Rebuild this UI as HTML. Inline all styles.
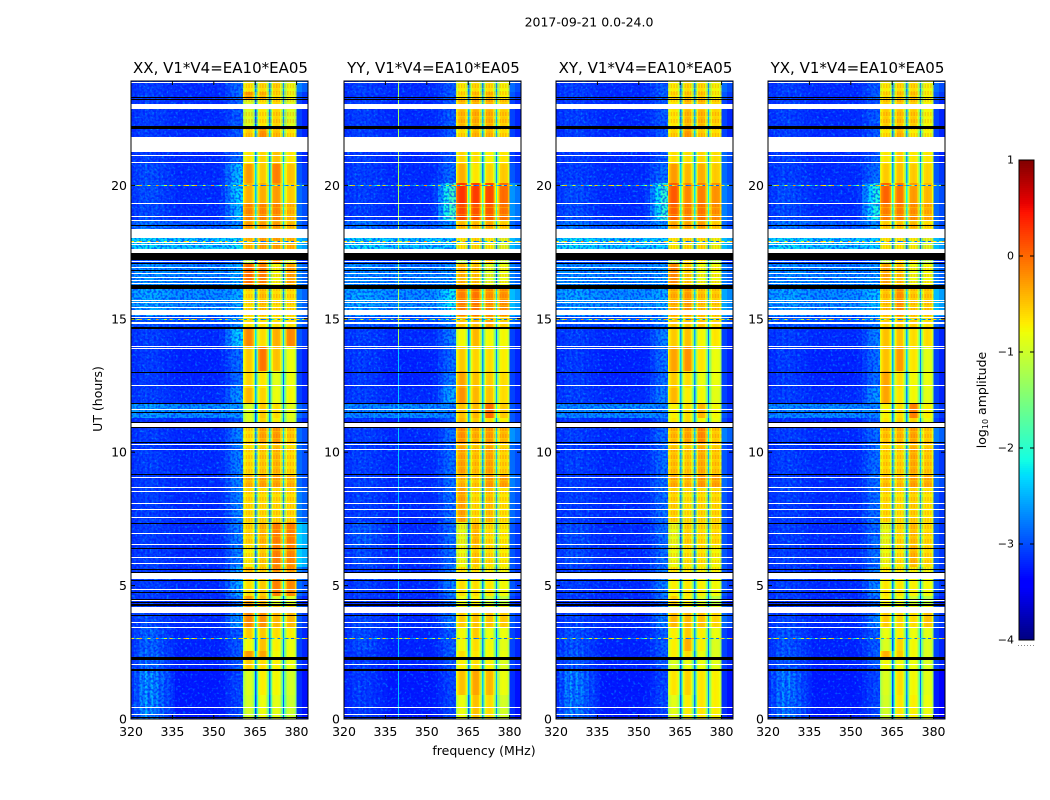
<!DOCTYPE html>
<html lang="en">
<head>
<meta charset="utf-8">
<title>2017-09-21 0.0-24.0</title>
<style>
html,body{margin:0;padding:0;background:#fff;}
svg{display:block;}
text{font-family:"DejaVu Sans","Liberation Sans",sans-serif;fill:#000;}
</style>
</head>
<body>
<svg id="figure" xmlns="http://www.w3.org/2000/svg" width="1050" height="800" viewBox="0 0 1050 800">
  <defs>
    <filter id="speckle-light" x="0" y="0" width="100%" height="100%" color-interpolation-filters="sRGB">
      <feTurbulence type="fractalNoise" baseFrequency="0.42" numOctaves="1" seed="7"/>
      <feColorMatrix type="matrix" values="0 0 0 0 0  0 0 0 0 0.75  0 0 0 0 1  6 0 0 0 -3.3"/>
    </filter>
    <filter id="speckle-dark" x="0" y="0" width="100%" height="100%" color-interpolation-filters="sRGB">
      <feTurbulence type="fractalNoise" baseFrequency="0.46" numOctaves="1" seed="23"/>
      <feColorMatrix type="matrix" values="0 0 0 0 0  0 0 0 0 0.05  0 0 0 0 1  5 0 0 0 -2.2"/>
    </filter>
    <pattern id="comb-texture" x="0" y="0" width="2.76" height="7" patternUnits="userSpaceOnUse">
      <rect x="0" y="0" width="1.4" height="4" fill="#ff5a00" fill-opacity="0.28"/>
      <rect x="0" y="4" width="2.76" height="1" fill="#ffe600" fill-opacity="0.3"/>
    </pattern>
  </defs>
  <text x="589" y="26.5" font-size="12.5" text-anchor="middle">2017-09-21 0.0-24.0</text>
  <text x="484" y="755" font-size="12.5" text-anchor="middle">frequency (MHz)</text>
  <text x="0" y="0" font-size="12.5" text-anchor="middle" transform="translate(102 399) rotate(-90)">UT (hours)</text>
  <text x="0" y="0" font-size="12.5" text-anchor="middle" transform="translate(986 400) rotate(-90)">log<tspan font-size="8" dy="2">10</tspan><tspan dy="-2"> amplitude</tspan></text>
  <g id="panels"></g>
  <g id="colorbar"></g>
</svg>
<script>
// ---- chart data -------------------------------------------------------------
const panelTitles = ["XX, V1*V4=EA10*EA05", "YY, V1*V4=EA10*EA05", "XY, V1*V4=EA10*EA05", "YX, V1*V4=EA10*EA05"];
const xTickLabels = [320, 335, 350, 365, 380];
const yTickLabels = [0, 5, 10, 15, 20];
const colorbarTicks = [1, 0, -1, -2, -3, -4];

// time-block edges in UT hours
const rowEdges = [0,.9,1.85,2.25,2.55,3,3.45,4,4.3,4.6,5.22,5.7,6.5,7.4,8.65,9.2,10.4,10.95,11.3,11.8,12.4,13.05,13.95,14.65,15.1,16.12,17.1,17.45,18.05,18.7,19.35,20.1,20.8,21.25,21.8,22.2,22.9,23.25,23.5,24];
// log10 amplitude of the 335-352 MHz background per block
const midLevels = [-3.25,-3.25,-3.2,-3.2,-3.2,-3.2,-3.15,-3.15,-3.15,-3.15,-3.15,-3.15,-3.15,-3.15,-3.15,-3.15,-3.15,-3.2,-2.65,-3.15,-3.2,-3.2,-3.15,-3,-2.65,-2.7,-3.1,-2.35,-2.9,-3.15,-3.15,-3.15,-3.15,-3.15,-3.15,-3.15,-3.15,-3.15,-3.15];

// per block: low(320-336), skirt(352-360), tail(380-384), subband1, subband2, subband3, subband4
const xxLevels = [
[-2.45,-3,-3.1,-1.05,-.9,-.95,-1.1],[-2.45,-3,-3.1,-1,-.8,-.85,-1.05],[-2.7,-2.9,-3,-.6,-.7,-.8,-.9],[-2.7,-2.9,-3,-.35,-.4,-.85,-.9],
[-2.75,-2.9,-3,-.85,-.55,-.8,-.9],[-2.75,-2.9,-3,-.6,-.6,-.7,-.8],[-2.9,-2.6,-2.9,-.25,-.3,-.5,-.5],[-3,-2.6,-2.8,-.4,-.5,-.6,-.7],
[-3,-2.8,-3,-.35,-.5,-1,-1],[-3,-2.5,-2.8,-.7,-.6,-.2,-.25],[-3,-2.5,-2.7,-.5,-.6,-.25,-.3],[-3,-2.7,-2.3,-.8,-.6,-.2,-.25],
[-3,-2.7,-2.3,-.65,-.5,-.2,-.2],[-3,-2.7,-2.7,-.7,-.7,-.7,-.7],[-3,-2.7,-2.8,-.5,-.4,-.4,-.5],[-3,-2.7,-2.8,-.7,-.6,-.5,-.7],
[-3,-2.7,-2.8,-.7,-.4,-.35,-.6],[-3.1,-2.9,-3,-1,-.65,-.8,-1],[-2.55,-2.6,-2.8,-1,-.6,-.7,-.95],[-3,-2.6,-3,-.5,-.65,-.9,-.85],
[-3,-2.8,-3,-.65,-.75,-.95,-.9],[-3,-2.8,-3,-.6,-.15,-.55,-.9],[-3,-2.3,-2.9,-.25,-.7,-.45,-.25],[-2.9,-2.6,-2.8,-.7,-.7,-.7,-.7],
[-2.45,-2.5,-2.7,-.7,-.55,-.7,-.7],[-2.55,-2.5,-2.7,-.1,-.2,-.85,-.4],[-2.9,-2.8,-3,-1.3,-.4,-.3,-1.1],[-2.2,-2.2,-2.4,-.5,-.4,-.4,-.5],
[-2.7,-2.6,-2.8,-.35,-.35,-.35,-.5],[-2.9,-2.4,-2.8,-.25,-.25,-.25,-.5],[-2.9,-2.3,-2.8,-.45,-.45,-.35,-.6],[-2.9,-2.4,-2.9,-.35,-.6,-.2,-.55],
[-3,-2.8,-3,-.75,-.65,-.55,-.75],[-3,-3,-3,-.75,-.65,-.55,-.75],[-3,-2.9,-3,-.6,-.3,-.55,-.75],[-3,-2.9,-3,-1,-.75,-.65,-1],
[-3,-2.9,-3,-1,-.75,-.65,-1],[-3,-2.8,-2.9,-.35,-.5,-.7,-.9],[-3,-2.8,-2.7,-.75,-.7,-.65,-.9]];
const yyLevels = [
[-3,-3,-3.1,-.9,-.55,-.7,-1.05],[-3,-3,-3.1,-.55,-.4,-.5,-.9],[-3,-2.9,-3,-.8,-.7,-.8,-1],[-3,-2.9,-3,-.7,-.75,-.85,-.9],
[-2.9,-2.9,-3,-.85,-.7,-.85,-.95],[-2.9,-2.9,-3,-.85,-.6,-.9,-.9],[-2.95,-2.7,-2.9,-.6,-.55,-.55,-.6],[-3,-2.7,-2.8,-.8,-.75,-.8,-.8],
[-3,-2.8,-3,-.9,-.8,-1.1,-1.2],[-3,-2.7,-2.9,-.7,-.7,-.75,-.85],[-3,-2.7,-2.9,-.75,-.75,-.85,-.9],[-2.9,-2.8,-2.9,-.9,-.6,-.7,-.8],
[-2.8,-2.8,-2.9,-.95,-.5,-.7,-.8],[-3,-2.8,-2.8,-.4,-.7,-.55,-.75],[-3,-2.8,-2.7,-.5,-.6,-.35,-.4],[-3,-2.8,-2.8,-.4,-.55,-.4,-.65],
[-3,-2.8,-2.6,-.3,-.45,-.35,-.5],[-3.1,-2.9,-2.9,-.5,-.6,-.7,-.8],[-2.7,-2.7,-2.9,-.55,-.5,-.1,-.6],[-3,-2.5,-3,-.3,-.5,-.55,-.7],
[-3,-2.7,-3,-.4,-.55,-.6,-.7],[-3,-2.8,-3,-.6,-.65,-.7,-.8],[-3,-2.7,-3,-.85,-.5,-.85,-.85],[-2.9,-2.7,-2.8,-.55,-.5,-.4,-.6],
[-2.45,-2.2,-2.4,-.2,-.15,-.3,-.3],[-2.6,-2.6,-2.7,-.5,-.55,-1,-.9],[-2.9,-2.9,-3,-1.35,-.7,-.6,-1.2],[-2.2,-2.3,-2.4,-.8,-.7,-.8,-1],
[-2.7,-2.6,-2.8,-.5,-.5,-.4,-.6],[-3,-1.9,-2.6,.1,.05,0,-.15],[-3,-1.9,-2.6,.2,.15,.1,-.1],[-3,-2.8,-2.9,-.45,-.75,-.65,-.6],
[-3,-2.9,-3,-.65,-.7,-.8,-.75],[-3,-3,-3,-.65,-.7,-.8,-.75],[-3,-2.9,-3,-.7,-.5,-.5,-.7],[-3,-2.9,-3,-.5,-.45,-.45,-.6],
[-3,-2.9,-3,-.5,-.45,-.45,-.6],[-3,-2.9,-2.9,-.7,-.55,-.5,-.8],[-3,-2.9,-2.8,-.8,-.7,-.7,-.85]];
const xyLevels = [
[-2.55,-3,-3.1,-.95,-.8,-.75,-.8],[-2.55,-3,-3.1,-.75,-.65,-.75,-.8],[-2.8,-2.9,-3,-1,-.9,-.9,-.95],[-2.8,-2.9,-3,-.8,-.7,-.9,-1],
[-2.85,-2.9,-3,-.8,-.45,-.8,-1],[-2.85,-2.9,-3,-.8,-.6,-.8,-.9],[-2.95,-2.7,-2.8,-.5,-.5,-.55,-.65],[-3,-2.7,-2.8,-.9,-.8,-.85,-.9],
[-3,-2.8,-3,-.6,-.8,-1,-1.2],[-3,-2.7,-2.9,-.8,-.75,-.8,-.85],[-3,-2.7,-2.9,-.75,-.8,-.85,-.85],[-2.9,-2.8,-2.9,-.9,-.75,-.75,-.85],
[-2.9,-2.8,-2.9,-.95,-.65,-.7,-.7],[-3,-2.8,-2.9,-.65,-.75,-.7,-.7],[-3,-2.8,-2.8,-.45,-.5,-.35,-.4],[-3,-2.8,-2.9,-.55,-.6,-.45,-.6],
[-3,-2.8,-2.7,-.5,-.4,-.25,-.6],[-3.1,-2.9,-3,-.75,-.7,-.85,-.9],[-2.7,-2.7,-2.9,-.8,-.7,-.5,-.85],[-3,-2.7,-3,-.5,-.8,-.85,-.95],
[-3,-2.8,-3,-.6,-.7,-.9,-.9],[-3,-2.8,-3,-.4,-.3,-.75,-.9],[-3,-2.7,-3,-.6,-.55,-.85,-.75],[-2.9,-2.7,-2.8,-.55,-.55,-.55,-.65],
[-2.5,-2.5,-2.5,-.45,-.35,-.55,-.6],[-2.6,-2.6,-2.7,-.25,-.6,-.9,-.85],[-2.9,-2.9,-3,-1.3,-.7,-.8,-1.3],[-2.2,-2.3,-2.4,-.8,-.7,-.7,-.9],
[-2.7,-2.6,-2.8,-.4,-.4,-.35,-.6],[-2.9,-2,-2.7,-.05,-.2,-.15,-.3],[-2.9,-2,-2.7,0,-.25,-.2,-.3],[-3,-2.8,-2.8,-.35,-.5,-.45,-.6],
[-3,-2.9,-2.8,-.7,-.7,-.65,-.7],[-3,-3,-3,-.7,-.7,-.65,-.7],[-3,-2.9,-3,-.65,-.35,-.6,-.7],[-3,-2.9,-3,-.75,-.5,-.5,-.65],
[-3,-2.9,-3,-.75,-.5,-.5,-.65],[-3,-2.9,-2.9,-.7,-.6,-.6,-.85],[-3,-2.9,-2.8,-.8,-.7,-.7,-.85]];
const yxLevels = [
[-2.6,-3,-3.2,-1.05,-.75,-.8,-.9],[-2.6,-3,-3.2,-1,-.7,-.85,-.95],[-2.8,-2.9,-3,-.85,-.85,-.9,-1],[-2.8,-2.9,-3,-.45,-.6,-.85,-1],
[-2.85,-2.9,-3,-1,-.65,-.85,-1],[-2.85,-2.9,-3,-.9,-.8,-.9,-.95],[-2.95,-2.7,-2.9,-.6,-.65,-.7,-.55],[-3,-2.7,-2.9,-.85,-.85,-.85,-.85],
[-3,-2.8,-3,-.8,-.9,-1.1,-1.2],[-3,-2.7,-2.9,-.75,-.75,-.8,-.85],[-3,-2.7,-2.9,-.8,-.8,-.85,-.9],[-3,-2.8,-2.9,-.9,-.75,-.5,-.7],
[-3,-2.8,-2.9,-.95,-.7,-.55,-.7],[-3,-2.8,-2.9,-.7,-.75,-.65,-.75],[-3,-2.8,-2.8,-.55,-.55,-.4,-.45],[-3,-2.8,-2.9,-.65,-.65,-.45,-.6],
[-3,-2.8,-2.7,-.55,-.5,-.4,-.6],[-3.1,-2.9,-3,-.75,-.65,-.65,-.9],[-2.7,-2.7,-2.9,-.8,-.7,-.2,-.8],[-3,-2.6,-3,-.4,-.75,-.85,-.95],
[-3,-2.8,-3,-.4,-.7,-.85,-.9],[-3,-2.8,-3,-.55,-.35,-.75,-.95],[-3,-2.7,-3,-.55,-.55,-.7,-.7],[-2.9,-2.7,-2.8,-.6,-.55,-.6,-.7],
[-2.5,-2.4,-2.4,-.55,-.3,-.6,-.6],[-2.6,-2.6,-2.7,-.4,-.55,-.9,-.85],[-2.9,-2.9,-3,-1.3,-.7,-.8,-1.3],[-2.2,-2.3,-2.4,-.8,-.8,-.85,-1],
[-2.7,-2.6,-2.8,-.6,-.55,-.5,-.7],[-2.9,-2.1,-2.8,-.2,-.2,-.3,-.45],[-2.9,-2.1,-2.8,-.05,-.15,-.35,-.5],[-3,-2.8,-2.9,-.6,-.55,-.6,-.65],
[-3,-2.9,-3,-.75,-.6,-.75,-.75],[-3,-3,-3,-.75,-.6,-.75,-.75],[-3,-2.9,-3,-.75,-.5,-.8,-.85],[-3,-2.9,-3,-.6,-.55,-.6,-.85],
[-3,-2.9,-3,-.6,-.55,-.6,-.85],[-3,-2.9,-2.9,-.7,-.6,-.6,-.85],[-3,-2.9,-2.8,-.8,-.7,-.7,-.85]];
const panelLevels = [xxLevels, yyLevels, xyLevels, yxLevels];

// 320-336 MHz stripe weights (1 MHz channels), skirt and tail spectral shapes
const lowShape = [.15,.5,.3,.8,.6,1,.5,.95,.6,.8,.4,.6,.3,.4,.2,.15];
const skirtShape = [.1,.4,.8,1];
const tailShape = [-.05,-.2];
// passband offsets for 0.5 MHz channels 360.5-380 MHz; subband index of each channel
const bandOffsets = [-.4,-.12,.04,.08,.1,.08,.04,-.18, -.9,-2,-.9, -.2,.04,.08,.1,.08,.04,-.18, -.9,-2,-.9, -.2,.04,.08,.1,.08,.04,-.18, -.9,-2,-.9, -.2,.04,.08,.1,.08,.06,0,-.3];
const bandIndex = [0,0,0,0,0,0,0,0, 0,0,0, 1,1,1,1,1,1,1, 1,1,1, 2,2,2,2,2,2,2, 2,2,2, 3,3,3,3,3,3,3,3];
// hour ranges where the passband shows the fine spectral comb
const combBlocks = [[5.3,11],[15.1,19.4],[21.8,24]];

// flagged (NaN) and under-range integrations, in UT hours
const whiteBands = [[22.86,23.05],[21.25,21.8],[18.03,18.37],[17.47,17.62],[15.14,15.33],[10.96,11.09],[5.25,5.48],[3.98,4.21]];
const whiteLines = [23.87,21.14,20.88,19.34,18.85,18.7,17.89,17.8,17.17,16.94,16.72,16.57,16.45,16.34,15.71,15.63,15.45,15.07,14.89,14.84,13.98,13.92,12.52,11.62,10.31,10.12,9.07,8.71,8.56,8.09,7.88,7.57,6.97,6.56,6.07,5.85,4.87,4.46,3.64,3.45,2.06,.45,.2];
const blackBands = [[23.26,23.33],[22.12,22.22],[16.12,16.27],[17.2,17.47],[14.62,14.68],[10.9,10.96],[11.09,11.14],[4.24,4.3],[2.21,2.32],[1.8,1.88]];
const blackLines = [13.02,11.84,11.52,10.38,9.18,7.36,6.42,5.63,5.52,5.21,4.76,4.51,4.4,3.91,.07,18.5,17.08,16.84,23.22];

// narrow-band interference: rows (hour) and a channel level sequence
const rfiHours = [3.02, 15, 20, 17.9];
const rfiLevels = [-.7,-2.6,-1.2,-.3,-2.8,-2.6,-.9,-2.9,-2.7,-.2,-2.7,-2.3,-1,-2.8,-.5,-2.4,-2.8,-1.3,-2.9,-.4];
// narrow persistent channel seen in the YY panel: frequency, hours, level
const yyLineFreq = [339.6, 339.6];
const yyLineHours = [[14,24],[0,14]];
const yyLineLevel = [-1.3,-2.4];

// ---- scales ---------------------------------------------------------------
const SVGNS = 'http://www.w3.org/2000/svg';
const panelLeft = [131, 344, 556, 768];
const plotTop = 81, plotBottom = 719, pxPerHour = 26.68, pxPerMHz = 2.76, plotW = 177;
const cbLeft = 1019, cbRight = 1034, cbTop = 160, cbBottom = 640, vMin = -4, vMax = 1;

function yScale(h){ return plotBottom - h * pxPerHour; }
function xScale(p, f){ return panelLeft[p] + (f - 320) * pxPerMHz; }
function cbScale(v){ return cbBottom - (v - vMin) / (vMax - vMin) * (cbBottom - cbTop); }

function seg(t, pts){
  for (let i = 1; i < pts.length; i++){
    if (t <= pts[i][0]){
      const a = pts[i-1], b = pts[i];
      return a[1] + (b[1] - a[1]) * (t - a[0]) / (b[0] - a[0]);
    }
  }
  return pts[pts.length-1][1];
}
function jet(v){
  const t = Math.max(0, Math.min(1, (v - vMin) / (vMax - vMin)));
  const r = seg(t, [[0,0],[.35,0],[.66,1],[.89,1],[1,.5]]);
  const g = seg(t, [[0,0],[.125,0],[.375,1],[.64,1],[.91,0],[1,0]]);
  const b = seg(t, [[0,.5],[.11,1],[.34,1],[.65,0],[1,0]]);
  return 'rgb(' + Math.round(r*255) + ',' + Math.round(g*255) + ',' + Math.round(b*255) + ')';
}
function make(tag, attrs, parent){
  const el = document.createElementNS(SVGNS, tag);
  for (const k in attrs) el.setAttribute(k, attrs[k]);
  parent.appendChild(el);
  return el;
}
function cell(parent, x0, x1, y0, y1, fill){
  const el = make('rect', {x:x0, y:y0, width:x1-x0, height:y1-y0, fill:fill, 'shape-rendering':'crispEdges'}, parent);
  
  
  return el;
}

// ---- panels ---------------------------------------------------------------
const panelsG = document.getElementById('panels');
const svgRoot = document.getElementById('figure');
const defs = svgRoot.querySelector('defs');

panelTitles.forEach(function(title, p){
  const g = make('g', {}, panelsG);
  
  

  const clip = make('clipPath', {id:'clip-' + p}, defs);
  make('rect', {x:panelLeft[p], y:plotTop, width:plotW, height:plotBottom-plotTop}, clip);

  const heat = make('g', {'clip-path':'url(#clip-' + p + ')'}, g);
  
  

  const levels = panelLevels[p];
  for (let r = 0; r < levels.length; r++){
    const row = levels[r], mid = midLevels[r];
    const y1 = Math.round(yScale(rowEdges[r])), y0 = Math.round(yScale(rowEdges[r+1]));
    const low = row[0], skirt = row[1], tail = row[2];
    // low-frequency stripes, 320-336 MHz
    lowShape.forEach(function(w, i){
      cell(heat, xScale(p, 320+i), xScale(p, 321+i), y0, y1, jet(mid + (low - mid) * w));
    });
    // quiet background, 336-352 MHz
    cell(heat, xScale(p, 336), xScale(p, 352), y0, y1, jet(mid));
    // skirt, 352-360.5 MHz
    skirtShape.forEach(function(w, i){
      const f0 = 352 + i * 2, f1 = i === 3 ? 360.5 : f0 + 2;
      cell(heat, xScale(p, f0), xScale(p, f1), y0, y1, jet(mid + (skirt - mid) * w));
    });
    // passband, 360.5-380 MHz
    bandOffsets.forEach(function(off, i){
      const f0 = 360.5 + i * .5;
      cell(heat, xScale(p, f0), xScale(p, f0 + .5), y0, y1, jet(row[3 + bandIndex[i]] + off));
    });
    // tail, 380-384 MHz
    tailShape.forEach(function(off, i){
      cell(heat, xScale(p, 380 + i*2), xScale(p, 382 + i*2), y0, y1, jet(tail + off));
    });
  }

  // fine comb over the passband
  combBlocks.forEach(function(b){
    const c = make('rect', {x:xScale(p, 360.5), y:yScale(b[1]), width:19.5*pxPerMHz, height:(b[1]-b[0])*pxPerHour, fill:'url(#comb-texture)'}, heat);
    
    
  });

  // speckle texture over the background part of the band
  const spL = make('rect', {x:panelLeft[p], y:plotTop, width:40.5*pxPerMHz, height:plotBottom-plotTop, filter:'url(#speckle-light)', opacity:.4}, heat);
  
  
  const spD = make('rect', {x:panelLeft[p], y:plotTop, width:40.5*pxPerMHz, height:plotBottom-plotTop, filter:'url(#speckle-dark)', opacity:.55}, heat);
  
  

  // interference rows
  rfiHours.forEach(function(h){
    const y = Math.round(yScale(h));
    for (let i = 0; i < 64; i++){
      const c = cell(heat, xScale(p, 320+i), xScale(p, 321+i), y, y+1, jet(rfiLevels[i % rfiLevels.length]));
      
    }
  });
  if (p === 1){
    yyLineFreq.forEach(function(f, i){
      const c = cell(heat, xScale(p, f), xScale(p, f) + 1, yScale(yyLineHours[i][1]), yScale(yyLineHours[i][0]), jet(yyLineLevel[i]));
      
    });
  }

  // flagged data
  whiteBands.forEach(function(b){
    const y0 = Math.round(yScale(b[1])), y1 = Math.round(yScale(b[0]));
    const c = cell(heat, panelLeft[p], panelLeft[p]+plotW, y0, y1, '#fff');
    
  });
  whiteLines.forEach(function(h){
    const y = Math.round(yScale(h));
    const c = cell(heat, panelLeft[p], panelLeft[p]+plotW, y, y+1, '#fff');
    
  });
  blackBands.forEach(function(b){
    const y0 = Math.round(yScale(b[1])), y1 = Math.round(yScale(b[0]));
    const c = cell(heat, panelLeft[p], panelLeft[p]+plotW, y0, y1, '#000');
    
  });
  blackLines.forEach(function(h){
    const y = Math.round(yScale(h));
    const c = cell(heat, panelLeft[p], panelLeft[p]+plotW, y, y+1, '#000');
    
  });

  // frame
  const frame = make('rect', {x:panelLeft[p], y:plotTop, width:plotW, height:plotBottom-plotTop, fill:'none', stroke:'#000', 'stroke-width':1}, g);
  
  

  // x ticks
  xTickLabels.forEach(function(f){
    const x = xScale(p, f);
    const t1 = make('line', {x1:x, x2:x, y1:plotBottom, y2:plotBottom-4, stroke:'#000', 'stroke-width':1}, g);
    
    
    const t2 = make('line', {x1:x, x2:x, y1:plotTop, y2:plotTop+4, stroke:'#000', 'stroke-width':1}, g);
    
    
    const lab = make('text', {x:x, y:plotBottom+17, 'font-size':12.5, 'text-anchor':'middle'}, g);
    lab.textContent = String(f);
    
    
  });
  // y ticks
  yTickLabels.forEach(function(h){
    const y = yScale(h);
    const t1 = make('line', {x1:panelLeft[p], x2:panelLeft[p]+4, y1:y, y2:y, stroke:'#000', 'stroke-width':1}, g);
    
    
    const t2 = make('line', {x1:panelLeft[p]+plotW, x2:panelLeft[p]+plotW-4, y1:y, y2:y, stroke:'#000', 'stroke-width':1}, g);
    
    
    const lab = make('text', {x:panelLeft[p]-4, y:y+4.5, 'font-size':12.5, 'text-anchor':'end'}, g);
    lab.textContent = String(h);
    
    
  });
  // title
  const ttl = make('text', {x:panelLeft[p]+plotW/2+1, y:plotTop-8, 'font-size':15, 'text-anchor':'middle'}, g);
  ttl.textContent = title;
  
  
});

// ---- colorbar ---------------------------------------------------------------
const cbG = document.getElementById('colorbar');
for (let y = cbTop; y < cbBottom; y += 2){
  const v = vMin + (cbBottom - y - 1) / (cbBottom - cbTop) * (vMax - vMin);
  const c = make('rect', {x:cbLeft, y:y, width:cbRight-cbLeft, height:2, fill:jet(v), 'shape-rendering':'crispEdges'}, cbG);
  
  
}
const cbFrame = make('rect', {x:cbLeft, y:cbTop, width:cbRight-cbLeft, height:cbBottom-cbTop, fill:'none', stroke:'#000', 'stroke-width':1}, cbG);


colorbarTicks.forEach(function(v){
  const y = cbScale(v);
  const lt = make('line', {x1:cbLeft, x2:cbLeft+4, y1:y, y2:y, stroke:'#000', 'stroke-width':1}, cbG);
  
  
  const rt = make('line', {x1:cbRight, x2:cbRight-4, y1:y, y2:y, stroke:'#000', 'stroke-width':1}, cbG);
  
  
  const lab = make('text', {x:cbLeft-5, y:y+3.5, 'font-size':11, 'text-anchor':'end'}, cbG);
  lab.textContent = v < 0 ? '\u2212' + Math.abs(v) : String(v);
  
  
});
const cbDots = make('line', {x1:cbLeft-1, x2:cbRight, y1:645.5, y2:645.5, stroke:'#888', 'stroke-width':1, 'stroke-dasharray':'1 2'}, cbG);


</script>
</body>
</html>
